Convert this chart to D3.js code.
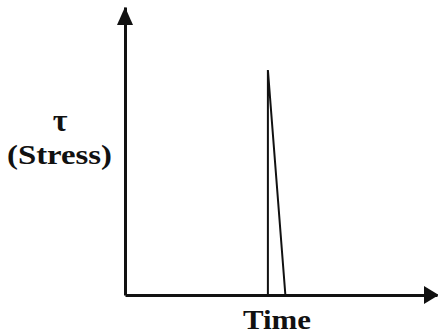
<!DOCTYPE html>
<html>

<head>
  <meta charset="utf-8" />
  <script src="https://cdn.jsdelivr.net/npm/d3@7"></script>
  <style>
    body {
      margin: 0;
      background: #fff;
    }

    .axis path {
      stroke: #111;
      stroke-width: 3px;
    }

    .pulse {
      fill: none;
      stroke: #111;
      stroke-width: 2px;
      stroke-linejoin: miter;
    }

    .label {
      font-family: "Times New Roman", "Liberation Serif", Times, serif;
      font-weight: bold;
      fill: #111;
    }
  </style>
</head>

<body>
</body>
<script>
  "use strict";

  // Stress pulse: instant rise, linear decay
  var pulseTime = [45.8, 45.8, 51.4];
  var pulseStress = [0, 1, 0];

  var xLabel = "Time";
  var yLabel = ["\u03c4", "(Stress)"];

  var width = 438,
    height = 336;

  var svg = d3.select("body")
    .append("svg")
    .attr("width", width)
    .attr("height", height);

  var x = d3.scaleLinear().domain([0, 100]).range([125, 437]);
  var y = d3.scaleLinear().domain([0, 1.28]).range([295, 7]);

  // Axes: no ticks, just the domain lines
  svg.append("g")
    .attr("class", "axis")
    .attr("transform", "translate(0," + y(0) + ")")
    .call(d3.axisBottom(x).tickValues([]).tickSizeOuter(0));

  svg.append("g")
    .attr("class", "axis")
    .attr("transform", "translate(" + x(0) + ",0)")
    .call(d3.axisLeft(y).tickValues([]).tickSizeOuter(0));

  // Arrowheads at the axis ends
  var yTop = y.range()[1],
    xEnd = x.range()[1];
  svg.append("path")
    .attr("fill", "#111")
    .attr("d", "M" + x(0) + "," + yTop + " L" + (x(0) - 8) + "," + (yTop + 18) + " L" + (x(0) + 8) + "," + (yTop + 18) + "Z");
  svg.append("path")
    .attr("fill", "#111")
    .attr("d", "M" + (xEnd + 2) + "," + y(0) + " L" + (xEnd - 13) + "," + (y(0) - 9) + " L" + (xEnd - 13) + "," + (y(0) + 9) + "Z");

  // The pulse
  var line = d3.line()
    .x(function(d, i) { return x(pulseTime[i]); })
    .y(function(d, i) { return y(pulseStress[i]); });

  svg.append("path")
    .attr("class", "pulse")
    .attr("d", line(pulseTime));

  // Labels
  svg.append("text")
    .attr("class", "label")
    .attr("x", 60)
    .attr("y", 131)
    .attr("text-anchor", "middle")
    .style("font-size", "32px")
    .text(yLabel[0]);

  svg.append("text")
    .attr("class", "label")
    .attr("x", 7)
    .attr("y", 164)
    .attr("textLength", 105)
    .attr("lengthAdjust", "spacingAndGlyphs")
    .style("font-size", "28px")
    .text(yLabel[1]);

  svg.append("text")
    .attr("class", "label")
    .attr("x", 243)
    .attr("y", 329)
    .attr("textLength", 68)
    .attr("lengthAdjust", "spacingAndGlyphs")
    .style("font-size", "27px")
    .text(xLabel);
</script>

</html>
